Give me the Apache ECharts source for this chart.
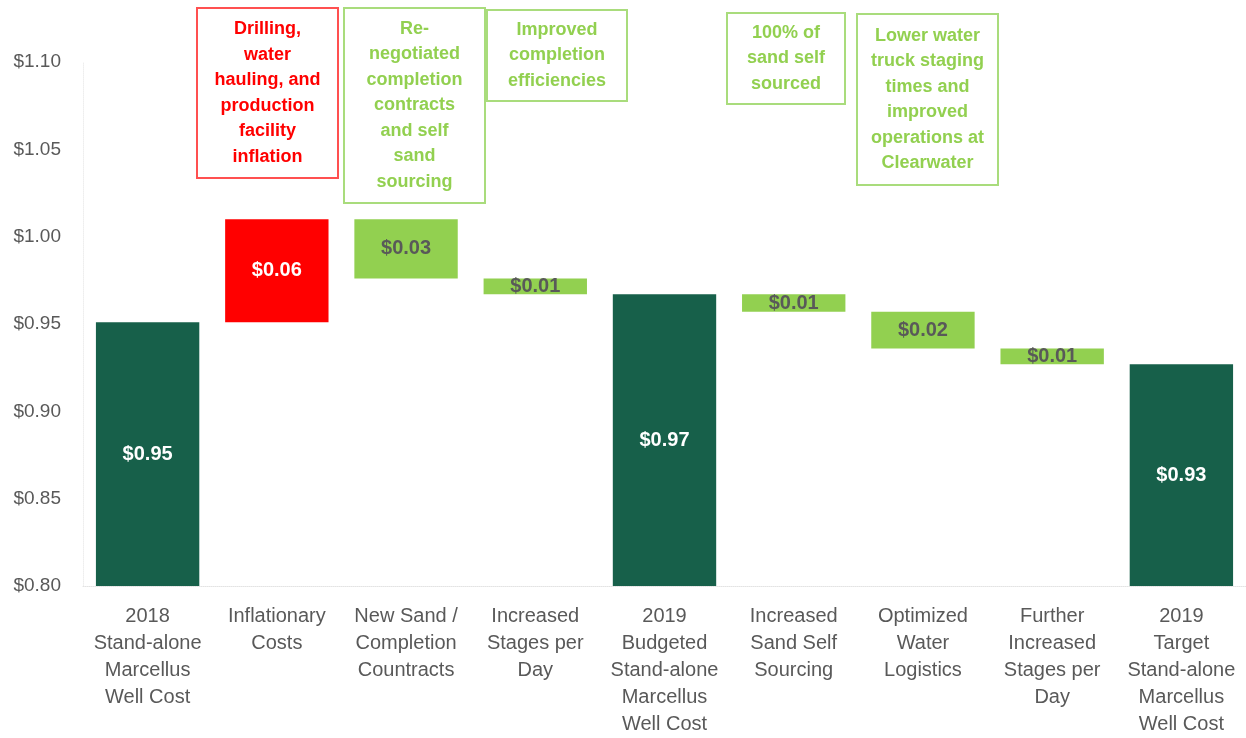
<!DOCTYPE html>
<html>
<head>
<meta charset="utf-8">
<script src="https://cdn.jsdelivr.net/npm/echarts@6/dist/echarts.min.js"></script>
<style>
    html, body { margin: 0; padding: 0; background: #fff; }
    #chart { width: 1246px; height: 738px; }
</style>
</head>
<body>
<div id="chart"></div>
<script>
// DATA
const categories = [
    '2018\nStand-alone\nMarcellus\nWell Cost',
    'Inflationary\nCosts',
    'New Sand /\nCompletion\nCountracts',
    'Increased\nStages per\nDay',
    '2019\nBudgeted\nStand-alone\nMarcellus\nWell Cost',
    'Increased\nSand Self\nSourcing',
    'Optimized\nWater\nLogistics',
    'Further\nIncreased\nStages per\nDay',
    '2019\nTarget\nStand-alone\nMarcellus\nWell Cost'
];
const barLows = [0.80, 0.951, 0.976, 0.967, 0.80, 0.957, 0.936, 0.927, 0.80];
const barHighs = [0.951, 1.010, 1.010, 0.976, 0.967, 0.967, 0.957, 0.936, 0.927];
const barLabels = ['$0.95', '$0.06', '$0.03', '$0.01', '$0.97', '$0.01', '$0.02', '$0.01', '$0.93'];
const barKinds = ['total', 'up', 'down', 'down', 'total', 'down', 'down', 'down', 'total'];

// annotation boxes: category index, text lines, kind
const notes = [
    { cat: 1, kind: 'up', lines: ['Drilling,', 'water', 'hauling, and', 'production', 'facility', 'inflation'] },
    { cat: 2, kind: 'down', lines: ['Re-', 'negotiated', 'completion', 'contracts', 'and self', 'sand', 'sourcing'] },
    { cat: 3, kind: 'down', lines: ['Improved', 'completion', 'efficiencies'] },
    { cat: 5, kind: 'down', lines: ['100% of', 'sand self', 'sourced'] },
    { cat: 6, kind: 'down', lines: ['Lower water', 'truck staging', 'times and', 'improved', 'operations at', 'Clearwater'] }
];

// STYLE
const colors = { total: '#17604a', up: '#ff0000', down: '#92d050' };
const labelColors = { total: '#ffffff', up: '#ffffff', down: '#595959' };
const font = '"Liberation Sans", Arial, sans-serif';

// box layout (pixel placement of the text boxes)
const noteBoxes = [
    { x: 197, y: 8, w: 141, h: 170 },
    { x: 344, y: 8, w: 141, h: 195 },
    { x: 487, y: 10, w: 140, h: 91 },
    { x: 727, y: 13, w: 118, h: 91 },
    { x: 857, y: 14, w: 141, h: 171 }
];

const chart = echarts.init(document.getElementById('chart'));

const option = {
    animation: false,
    grid: { left: 83, top: 62, width: 1165, bottom: 148 },
    xAxis: {
        type: 'category',
        data: categories,
        axisTick: { show: false },
        axisLine: { lineStyle: { color: '#e3e3e3', type: 'dotted', width: 1 } },
        axisLabel: {
            interval: 0,
            color: '#595959',
            fontFamily: font,
            fontSize: 20,
            lineHeight: 27,
            margin: 17
        }
    },
    yAxis: {
        type: 'value',
        min: 0.80,
        max: 1.10,
        interval: 0.05,
        axisLine: { show: true, lineStyle: { color: '#eeeeee', type: 'dotted' } },
        axisTick: { show: false },
        splitLine: { show: false },
        axisLabel: {
            color: '#595959',
            fontFamily: font,
            fontSize: 19,
            margin: 22,
            formatter: v => '$' + v.toFixed(2)
        }
    },
    series: [
        {
            type: 'bar',
            stack: 'w',
            silent: true,
            itemStyle: { color: 'transparent' },
            barCategoryGap: '20%',
            data: barLows
        },
        {
            type: 'bar',
            stack: 'w',
            barCategoryGap: '20%',
            data: barHighs.map((h, i) => ({
                value: +(h - barLows[i]).toFixed(4),
                itemStyle: { color: colors[barKinds[i]] },
                label: { color: labelColors[barKinds[i]] }
            })),
            label: {
                show: true,
                position: 'inside',
                fontFamily: font,
                fontWeight: 'bold',
                fontSize: 20,
                formatter: p => barLabels[p.dataIndex]
            }
        }
    ]
};

chart.setOption(option);

// ANNOTATION BOXES
const graphics = notes.map((n, i) => {
    const b = noteBoxes[i];
    const c = n.kind === 'up' ? '#ff0000' : '#92d050';
    const border = n.kind === 'up' ? '#ff5050' : '#a9dc7c';
    return {
        type: 'group',
        children: [
            {
                type: 'rect',
                shape: { x: b.x, y: b.y, width: b.w, height: b.h },
                style: { fill: '#fff', stroke: border, lineWidth: 2 }
            },
            {
                type: 'text',
                x: b.x + b.w / 2,
                y: b.y + b.h / 2,
                style: {
                    text: n.lines.join('\n'),
                    fill: c,
                    font: 'bold 18px ' + font,
                    lineHeight: 25.5,
                    align: 'center',
                    verticalAlign: 'middle'
                }
            }
        ]
    };
});

chart.setOption({ graphic: graphics });
</script>
</body>
</html>
